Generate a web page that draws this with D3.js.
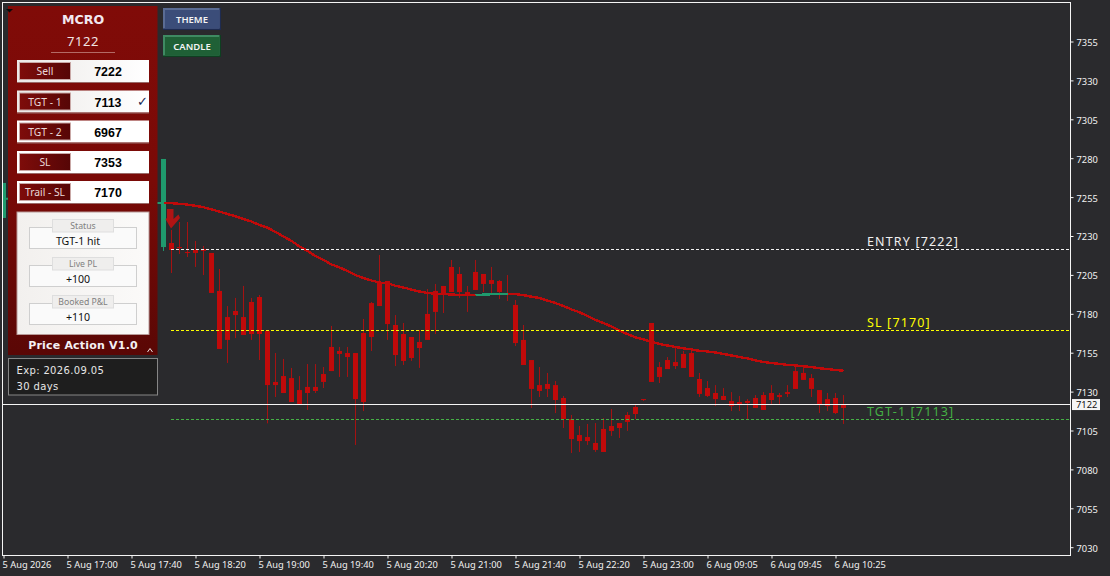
<!DOCTYPE html>
<html lang="en">
<head>
<meta charset="UTF-8">
<title>MCRO Price Action</title>
<script src="https://d3js.org/d3.v7.min.js"></script>
<style>
    html, body { margin: 0; padding: 0; background: #2a2a2d; overflow: hidden; }
    svg { display: block; }
    .tick-label { font-family: "Noto Sans", sans-serif; font-size: 9.3px; fill: #f2f2f2; }
    .level-label { font-family: "Noto Sans", sans-serif; font-size: 12.5px; letter-spacing: 1.15px; }
    .row-label { font-family: "Noto Sans", sans-serif; font-size: 10.3px; fill: #e8d8d8; text-anchor: middle; }
    .row-value { font-family: "Liberation Sans", Arial, sans-serif; font-size: 12.4px; font-weight: bold; fill: #000; text-anchor: middle; }
    .group-label { font-family: "Noto Sans", sans-serif; font-size: 8.7px; fill: #808080; text-anchor: middle; }
    .group-value { font-family: "Noto Sans", sans-serif; font-size: 10.6px; fill: #111; text-anchor: middle; }
    .btn-label { font-family: "Noto Sans", sans-serif; font-size: 9.5px; font-weight: 600; fill: #f4f4f4; text-anchor: middle; }
    .exp-label { font-family: "DejaVu Sans", sans-serif; font-size: 10px; fill: #e6e6e6; letter-spacing: 0.35px; }
</style>
</head>
<body>
<div id="chart"></div>
<script>
    // bars 1-19 sit behind the panel
    const barIdx = [0].concat(d3.range(20, 106));

    const opens = [7241.6, 7222.9, 7225.5, 7222.9, 7219.7, 7221.0, 7221.6, 7219.1, 7194.7, 7177.9, 7181.8, 7177.9, 7187.6, 7190.8, 7168.9, 7136.2, 7140.0, 7138.7, 7131.0, 7133.0, 7133.0, 7141.3, 7158.7, 7156.1, 7154.8, 7154.8, 7167.7, 7186.9, 7200.4, 7201.1, 7172.8, 7167.0, 7165.1, 7161.9, 7179.9, 7194.7, 7197.9, 7210.1, 7205.6, 7194.0, 7206.9, 7205.6, 7201.7, 7201.1, 7193.4, 7185.7, 7163.2, 7150.3, 7134.2, 7134.9, 7134.2, 7125.9, 7112.4, 7102.1, 7100.8, 7097.0, 7106.0, 7107.9, 7109.8, 7115.0, 7120.1, 7125.2, 7174.1, 7145.8, 7150.3, 7149.0, 7154.2, 7154.8, 7138.1, 7132.3, 7129.1, 7127.2, 7124.0, 7123.3, 7124.0, 7125.9, 7127.8, 7129.1, 7127.8, 7129.7, 7143.2, 7142.0, 7138.7, 7131.0, 7125.2, 7125.9, 7122.0];
    const highs = [7264.1, 7279.5, 7233.9, 7239.0, 7239.0, 7226.8, 7223.6, 7219.1, 7208.8, 7185.0, 7190.2, 7197.9, 7190.2, 7192.1, 7168.9, 7154.8, 7151.0, 7145.2, 7140.0, 7147.7, 7147.7, 7145.8, 7172.2, 7158.7, 7158.7, 7154.8, 7176.7, 7187.6, 7217.8, 7201.1, 7179.2, 7174.1, 7165.1, 7169.6, 7195.9, 7199.2, 7197.9, 7214.6, 7210.1, 7197.9, 7214.6, 7205.6, 7210.1, 7201.7, 7204.9, 7188.9, 7172.8, 7150.3, 7145.8, 7142.0, 7136.8, 7127.2, 7115.0, 7107.9, 7109.2, 7109.8, 7113.0, 7118.8, 7109.8, 7116.9, 7122.0, 7125.2, 7174.1, 7149.0, 7152.2, 7158.0, 7156.1, 7156.1, 7142.0, 7136.8, 7134.2, 7132.3, 7129.7, 7127.2, 7125.2, 7127.8, 7129.7, 7134.2, 7129.1, 7134.2, 7145.8, 7145.8, 7141.3, 7131.0, 7129.1, 7129.1, 7127.8];
    const lows = [7241.6, 7220.4, 7206.2, 7218.4, 7216.5, 7210.1, 7204.9, 7193.4, 7157.4, 7148.4, 7164.4, 7166.4, 7163.2, 7150.3, 7109.6, 7126.5, 7129.1, 7123.3, 7121.4, 7118.2, 7129.1, 7132.3, 7143.2, 7139.4, 7139.4, 7095.7, 7117.5, 7156.1, 7185.0, 7163.2, 7146.4, 7147.1, 7149.7, 7145.2, 7163.2, 7167.0, 7180.5, 7194.0, 7190.2, 7181.2, 7195.3, 7194.0, 7193.4, 7189.5, 7188.2, 7159.3, 7147.1, 7119.5, 7126.5, 7126.5, 7116.2, 7106.6, 7090.5, 7091.2, 7095.7, 7091.2, 7091.2, 7101.5, 7100.2, 7104.7, 7112.4, 7124.0, 7136.2, 7135.5, 7144.5, 7144.5, 7145.2, 7139.4, 7126.5, 7126.5, 7120.7, 7124.6, 7117.5, 7117.5, 7112.4, 7119.5, 7118.2, 7121.4, 7121.4, 7126.5, 7131.7, 7137.5, 7126.5, 7116.2, 7117.5, 7115.6, 7109.2];
    const closes = [7264.1, 7279.5, 7221.0, 7222.3, 7219.1, 7219.1, 7220.4, 7193.4, 7157.4, 7163.2, 7179.2, 7166.4, 7167.0, 7167.0, 7134.2, 7134.2, 7129.1, 7123.3, 7121.4, 7129.1, 7130.4, 7136.2, 7143.2, 7154.2, 7152.2, 7125.2, 7123.3, 7165.1, 7185.0, 7173.4, 7153.5, 7149.7, 7151.6, 7158.0, 7163.2, 7181.2, 7192.1, 7194.0, 7194.0, 7192.1, 7195.3, 7199.2, 7199.2, 7194.0, 7192.1, 7161.2, 7147.1, 7131.7, 7130.4, 7131.7, 7124.6, 7112.4, 7099.5, 7098.2, 7098.2, 7092.5, 7091.2, 7104.7, 7106.6, 7110.5, 7115.6, 7124.6, 7136.2, 7139.4, 7144.5, 7146.4, 7145.2, 7139.4, 7128.5, 7127.2, 7125.2, 7124.6, 7120.7, 7121.4, 7122.7, 7119.5, 7118.2, 7124.6, 7126.5, 7128.5, 7131.7, 7137.5, 7131.7, 7121.4, 7120.7, 7116.2, 7119.5];

    // moving average, bars 19 to 105
    const maStart = 19;
    const maValues = [7251.4, 7251.4, 7251.1, 7250.7, 7250.2, 7249.4, 7248.5, 7247.1, 7245.7, 7244.1, 7242.7, 7240.9, 7239.3, 7237.1, 7235.4, 7232.6, 7229.7, 7226.8, 7223.3, 7220.4, 7217.1, 7214.6, 7211.7, 7209.8, 7207.5, 7204.9, 7203.0, 7201.4, 7200.1, 7199.6, 7198.0, 7196.9, 7195.6, 7194.3, 7193.4, 7192.9, 7192.7, 7192.4, 7192.1, 7191.9, 7192.1, 7192.3, 7192.6, 7192.9, 7192.9, 7192.7, 7192.0, 7191.0, 7190.2, 7188.5, 7186.9, 7185.0, 7182.8, 7181.0, 7178.6, 7176.0, 7174.1, 7171.8, 7169.1, 7167.0, 7164.8, 7163.5, 7162.1, 7160.6, 7159.6, 7158.7, 7157.8, 7157.1, 7156.2, 7155.8, 7155.1, 7154.2, 7153.2, 7152.2, 7151.3, 7150.0, 7149.0, 7148.4, 7147.8, 7147.2, 7146.8, 7146.3, 7145.8, 7145.0, 7144.5, 7143.9, 7143.4];
    const maRising = [[19, 20], [59, 63]];

    const priceTicks = [7355, 7330, 7305, 7280, 7255, 7230, 7205, 7180, 7155, 7130, 7105, 7080, 7055, 7030];
    const timeTickBars = d3.range(0, 105, 8);
    const timeTickLabels = ["5 Aug 2026", "5 Aug 17:00", "5 Aug 17:40", "5 Aug 18:20", "5 Aug 19:00", "5 Aug 19:40", "5 Aug 20:20", "5 Aug 21:00", "5 Aug 21:40", "5 Aug 22:20", "5 Aug 23:00", "6 Aug 09:05", "6 Aug 09:45", "6 Aug 10:25"];

    const lastPrice = 7122;
    const levelNames = ["ENTRY [7222]", "SL [7170]", "TGT-1 [7113]"];
    const levelPrices = [7222, 7170, 7113];
    const levelColors = ["#f0f0f0", "#ffff00", "#45b045"];

    const rowLabels = ["Sell", "TGT - 1", "TGT - 2", "SL", "Trail - SL"];
    const rowValues = ["7222", "7113", "6967", "7353", "7170"];
    const groupLabels = ["Status", "Live PL", "Booked P&L"];
    const groupValues = ["TGT-1 hit", "+100", "+110"];

    const W = 1110, H = 576;
    const plot = { left: 2.5, top: 2.5, right: 1070.5, bottom: 555.5 };

    const x = d3.scaleLinear().domain([0, 105]).range([3.5, 843.5]);
    const y = d3.scaleLinear().domain([7030, 7355]).range([547.2, 41.5]);

    const svg = d3.select("#chart").append("svg")
        .attr("width", W).attr("height", H);

    const defs = svg.append("defs");
    defs.append("clipPath").attr("id", "plotClip").append("rect")
        .attr("x", plot.left + 0.5).attr("y", plot.top)
        .attr("width", plot.right - plot.left).attr("height", plot.bottom - plot.top);

    function gradient(id, stops, vertical) {
        const g = defs.append("linearGradient").attr("id", id)
            .attr("x1", 0).attr("y1", 0).attr("x2", vertical ? 0 : 1).attr("y2", vertical ? 1 : 0);
        stops.forEach((c, i) => g.append("stop").attr("offset", i / (stops.length - 1)).attr("stop-color", c));
    }
    gradient("panelFill", ["#800b08", "#7a0a07", "#5a0705"], true);
    gradient("labelFill", ["#7e0c0a", "#560606"], false);
    gradient("rowFill", ["#ece9e7", "#ffffff"], false);
    gradient("boxFill", ["#f2f0ee", "#fbfaf9"], false);

    svg.append("rect").attr("width", W).attr("height", H).attr("fill", "#2a2a2d");

    // candles
    const green = "#1f9a6d", red = "#c00a0a";
    const bars = barIdx.map((b, i) => ({ b, o: opens[i], h: highs[i], l: lows[i], c: closes[i] }));
    const chart = svg.append("g").attr("clip-path", "url(#plotClip)");

    chart.selectAll(".wick").data(bars).enter().append("line")
        .attr("class", "wick")
        .attr("x1", d => x(d.b)).attr("x2", d => x(d.b))
        .attr("y1", d => y(d.h)).attr("y2", d => y(d.l))
        .attr("stroke", d => d.c > d.o ? green : "#a51212")
        .attr("stroke-width", 1);

    chart.selectAll(".body").data(bars).enter().append("rect")
        .attr("class", "body")
        .attr("x", d => x(d.b) - 2.5)
        .attr("width", 5)
        .attr("y", d => y(Math.max(d.o, d.c)))
        .attr("height", d => Math.max(1, Math.abs(y(d.o) - y(d.c))))
        .attr("fill", d => d.c > d.o ? green : red);

    // moving average, drawn bar to bar so the colour can switch
    const maPts = maValues.map((v, i) => ({ b: maStart + i, v }));
    const maLine = d3.line().x(d => x(d.b)).y(d => y(d.v));
    chart.append("path").datum(maPts)
        .attr("d", maLine)
        .attr("fill", "none").attr("stroke", red).attr("stroke-width", 2.4)
        .attr("shape-rendering", "crispEdges");
    maRising.forEach(r => {
        chart.append("path").datum(maPts.filter(d => d.b >= r[0] && d.b <= r[1]))
            .attr("d", maLine)
            .attr("fill", "none").attr("stroke", green).attr("stroke-width", 2.4)
            .attr("shape-rendering", "crispEdges");
    });
    chart.append("line")
        .attr("x1", x(0)).attr("x2", x(1)).attr("y1", y(7254)).attr("y2", y(7254))
        .attr("stroke", green).attr("stroke-width", 2);

    // sell arrow on the entry bar
    const ax = x(21), ay = y(7255);
    const arrowShape = [[-4.5, 12], [2, 12], [2, 22], [7, 17.5], [8.5, 21], [-0.5, 31.5], [-6, 22], [-4.5, 21]];
    chart.append("path")
        .attr("d", "M" + arrowShape.map(p => `${ax + p[0]},${ay + p[1]}`).join("L") + "Z")
        .attr("fill", "#b01414");

    // levels
    levelPrices.forEach((p, i) => {
        const ly = Math.round(y(p) + 0.6) + 0.5;
        svg.append("line")
            .attr("x1", x(21) - 0.5).attr("x2", plot.right)
            .attr("y1", ly).attr("y2", ly)
            .attr("stroke", levelColors[i]).attr("stroke-width", 1)
            .attr("stroke-dasharray", "3,2");
        svg.append("text").attr("class", "level-label")
            .attr("x", 867).attr("y", y(p) - 2.5)
            .attr("fill", levelColors[i])
            .text(levelNames[i]);
    });
    svg.append("line")
        .attr("x1", plot.left).attr("x2", plot.right)
        .attr("y1", Math.round(y(lastPrice)) + 0.5).attr("y2", Math.round(y(lastPrice)) + 0.5)
        .attr("stroke", "#f5f5f5").attr("stroke-width", 1);

    // frame and axes
    svg.append("rect")
        .attr("x", plot.left).attr("y", plot.top)
        .attr("width", plot.right - plot.left).attr("height", plot.bottom - plot.top)
        .attr("fill", "none").attr("stroke", "#f5f5f5");

    const yAxis = svg.append("g")
        .attr("transform", `translate(${plot.right},0)`)
        .call(d3.axisRight(y).tickValues(priceTicks).tickSize(3).tickPadding(3).tickFormat(d3.format("d")));
    const xAxis = svg.append("g")
        .attr("transform", `translate(0,${plot.bottom})`)
        .call(d3.axisBottom(x).tickValues(timeTickBars).tickSize(3).tickPadding(3)
            .tickFormat((d, i) => timeTickLabels[i]));
    [yAxis, xAxis].forEach(a => {
        a.select(".domain").remove();
        a.selectAll("line").attr("stroke", "#f5f5f5");
        a.selectAll("text").attr("class", "tick-label").attr("fill", null);
    });
    xAxis.selectAll("text").attr("text-anchor", "start").attr("x", -1.5).attr("dy", "0.72em");
    yAxis.selectAll("text").attr("dy", "0.42em");

    // last price tag
    svg.append("rect")
        .attr("x", 1072).attr("y", y(lastPrice) - 5)
        .attr("width", 28).attr("height", 11).attr("fill", "#f5f5f5");
    svg.append("text").attr("class", "tick-label")
        .attr("x", 1076).attr("y", y(lastPrice) + 3.5)
        .style("fill", "#111")
        .text(lastPrice);

    // side panel
    const panel = svg.append("g");
    panel.append("rect").attr("x", 8).attr("y", 6).attr("width", 149.5).attr("height", 349)
        .attr("fill", "url(#panelFill)");
    panel.append("path").attr("d", "M6,9 h7 l-3.5,3.5 z").attr("fill", "#0a0a0a");

    panel.append("text").attr("x", 83).attr("y", 24)
        .attr("text-anchor", "middle")
        .attr("font-family", "'DejaVu Sans', sans-serif").attr("font-weight", "bold").attr("font-size", 12.6)
        .attr("fill", "#f2e8f0").text("MCRO");
    panel.append("text").attr("x", 83).attr("y", 46)
        .attr("text-anchor", "middle")
        .attr("font-family", "'Noto Sans', sans-serif").attr("font-size", 13).attr("letter-spacing", 0.6)
        .attr("fill", "#f0e4e4").text(lastPrice);
    panel.append("line").attr("x1", 51).attr("x2", 115).attr("y1", 52.5).attr("y2", 52.5)
        .attr("stroke", "#b46a66");

    const rowTops = [60, 90.5, 120.5, 151, 181];
    rowLabels.forEach((label, i) => {
        const t = rowTops[i];
        panel.append("rect").attr("x", 17).attr("y", t).attr("width", 132).attr("height", 22)
            .attr("fill", i < 2 ? "url(#rowFill)" : "#fff");
        panel.append("line").attr("x1", 17).attr("x2", 149).attr("y1", t + 22.5).attr("y2", t + 22.5)
            .attr("stroke", "#9a6a68");
        panel.append("rect").attr("x", 19.5).attr("y", t + 2.5).attr("width", 51).attr("height", 17)
            .attr("fill", "url(#labelFill)").attr("stroke", "#c9a8a6");
        panel.append("text").attr("class", "row-label").attr("x", 45).attr("y", t + 15).text(label);
        panel.append("text").attr("class", "row-value").attr("x", 108).attr("y", t + 16).text(rowValues[i]);
    });
    panel.append("text").attr("x", 142.5).attr("y", rowTops[1] + 15)
        .attr("text-anchor", "middle").attr("font-family", "'DejaVu Sans', sans-serif").attr("font-size", 13)
        .attr("fill", "#1a1f50").text("\u2713");

    panel.append("rect").attr("x", 17).attr("y", 212).attr("width", 132).attr("height", 122.5)
        .attr("fill", "url(#boxFill)").attr("stroke", "#b89a98");
    const groupTops = [227.5, 265.5, 303.5];
    groupLabels.forEach((label, i) => {
        const t = groupTops[i];
        panel.append("rect").attr("x", 29.5).attr("y", t).attr("width", 107).attr("height", 21)
            .attr("fill", "#fafafa").attr("stroke", "#cfcfcf");
        panel.append("rect").attr("x", 52.5).attr("y", t - 8).attr("width", 61).attr("height", 12.5)
            .attr("fill", "#efeeed").attr("stroke", "#dedede");
        panel.append("text").attr("class", "group-label").attr("x", 83).attr("y", t + 1.5).text(label);
        panel.append("text").attr("class", "group-value").attr("x", 78).attr("y", t + 17).text(groupValues[i]);
    });

    panel.append("text").attr("x", 83).attr("y", 349)
        .attr("text-anchor", "middle")
        .attr("font-family", "'DejaVu Sans', sans-serif").attr("font-weight", "bold").attr("font-size", 11)
        .attr("letter-spacing", 0.2).attr("fill", "#f4f0f4").text("Price Action V1.0");
    panel.append("path").attr("d", "M147.5,352 l2.5,-3.5 l2.5,3.5").attr("fill", "none").attr("stroke", "#e8e0e0");

    panel.append("rect").attr("x", 8.5).attr("y", 358.5).attr("width", 149).attr("height", 36.5)
        .attr("fill", "#1e1e1e").attr("stroke", "#868686");
    panel.append("text").attr("class", "exp-label").attr("x", 16.5).attr("y", 374).text("Exp: 2026.09.05");
    panel.append("text").attr("class", "exp-label").attr("x", 16.5).attr("y", 390).text("30 days");

    // buttons
    [
        { label: "THEME", top: 8, fill: "#3b4d79", hi: "#5a6c94", lo: "#1e2b50" },
        { label: "CANDLE", top: 35, fill: "#1f6036", hi: "#3f8a62", lo: "#0e3f20" }
    ].forEach(b => {
        panel.append("rect").attr("x", 163).attr("y", b.top).attr("width", 58).attr("height", 22).attr("fill", b.lo);
        panel.append("rect").attr("x", 163).attr("y", b.top).attr("width", 56.5).attr("height", 20.5).attr("fill", b.hi);
        panel.append("rect").attr("x", 165).attr("y", b.top + 2).attr("width", 54.5).attr("height", 18.5).attr("fill", b.fill);
        panel.append("text").attr("class", "btn-label").attr("x", 192).attr("y", b.top + 14.5).text(b.label);
    });
</script>
</body>
</html>
